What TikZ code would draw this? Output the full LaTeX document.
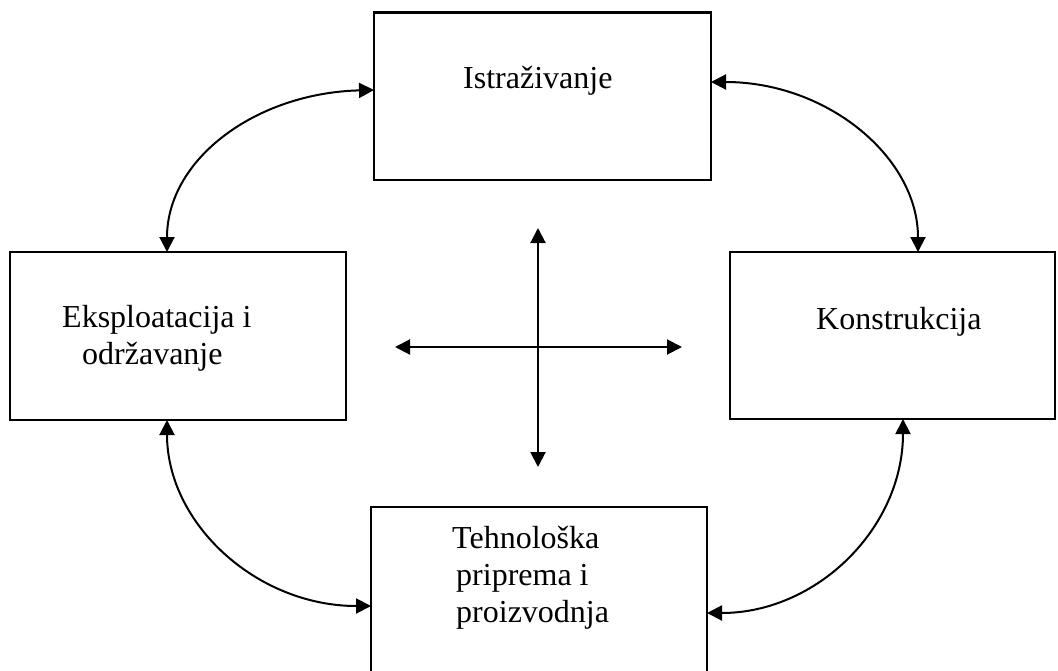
\documentclass[tikz,border=0pt]{standalone}
\usepackage{fontspec}
\setmainfont{Liberation Serif}
\usetikzlibrary{arrows.meta,calc}
\begin{document}
\begin{tikzpicture}[x=1pt,y=-1pt,
  box/.style={draw,line width=2.4pt,inner sep=0pt,outer sep=0pt},
  lbl/.style={anchor=base west,inner sep=0pt,font=\fontsize{32}{37}\selectfont},
  link/.style={line width=2pt,<->},
  >={Triangle[length=15pt,width=15pt]}]
\useasboundingbox (0,0) rectangle (1058,670);
\clip (0,0) rectangle (1058,670);

% four phase boxes
\node[box,minimum width=337pt,minimum height=167.5pt] (ist) at (542.5,96.25) {};
\node[box,minimum width=336pt,minimum height=168pt] (eks) at (178,336) {};
\node[box,minimum width=325pt,minimum height=167pt] (kon) at (892.5,335.5) {};
\node[box,minimum width=336pt,minimum height=168pt] (teh) at (539,591) {};

% box texts
\node[lbl] (tIst) at (463,88) {Istraživanje};
\node[lbl] (tEks1) at (62,327) {Eksploatacija i};
\node[lbl] (tEks2) at (82,364) {održavanje};
\node[lbl] (tKon) at (816,329) {Konstrukcija};
\node[lbl] (tTeh1) at (452,548) {Tehnološka};
\node[lbl] (tTeh2) at (456,585) {priprema i};
\node[lbl] (tTeh3) at (456,622) {proizvodnja};

% curved two-way links between neighbouring boxes
\draw[link] ([yshift=6.25pt]ist.west) .. controls +(-118,3) and +(0,-93) .. ([xshift=-11pt]eks.north);
\draw[link] ([yshift=14.25pt]ist.east) .. controls +(116,0) and +(0,-95) .. ([xshift=25.5pt]kon.north);
\draw[link] ([xshift=-11pt]eks.south) .. controls +(0,104) and +(-114,0) .. ([yshift=-15pt]teh.west);
\draw[link] ([xshift=10.5pt]kon.south) .. controls +(0,109) and +(110,0) .. ([yshift=-22pt]teh.east);

% central cross
\coordinate (cTop) at (538,228);
\coordinate (cBot) at (538,467);
\coordinate (cLeft) at (395,347);
\coordinate (cRight) at (682,347);
\draw[link] (cTop) -- (cBot);
\draw[link] (cLeft) -- (cRight);
\end{tikzpicture}
\end{document}
